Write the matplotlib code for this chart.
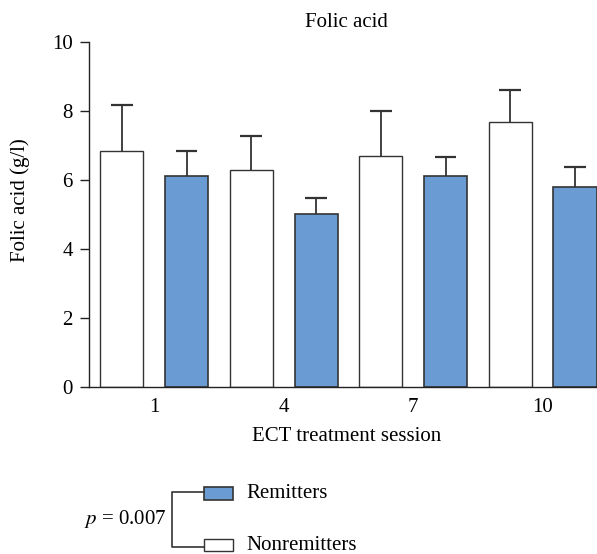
import numpy as np
import matplotlib
matplotlib.use('Agg')
import matplotlib.pyplot as plt
from matplotlib.patches import Rectangle

plt.rcParams['font.family'] = ['Liberation Serif', 'DejaVu Serif']
plt.rcParams['mathtext.fontset'] = 'stix'

# 数据
sessions = ['1', '4', '7', '10']
nonremit_mean = [6.82, 6.29, 6.70, 7.68]
nonremit_err = [1.35, 0.99, 1.28, 0.91]
remit_mean = [6.12, 5.02, 6.11, 5.79]
remit_err = [0.70, 0.44, 0.54, 0.57]
p_text = '0.007'

blue = '#6a9bd2'
edge = '#333333'
fs = 15

W, H = 597, 554
fig = plt.figure(figsize=(W / 100, H / 100), dpi=100)
ax = fig.add_axes([89 / W, 1 - 386.7 / H, (597 - 89) / W, (386.7 - 41.7) / H])

n = len(sessions)
x_non = np.arange(n) * 2
x_rem = x_non + 1
bw = 0.665
cap = 0.335


def draw_bars(x, mean, err, color, lw):
    ax.bar(x, mean, width=bw, color=color, edgecolor=edge, linewidth=lw, zorder=2)
    top = np.array(mean) + np.array(err)
    # 只画向上的误差线
    ax.vlines(x, mean, top, color=edge, lw=1.3, zorder=1)
    ax.hlines(top, x - cap / 2, x + cap / 2, color=edge, lw=1.6, zorder=1)


draw_bars(x_non, nonremit_mean, nonremit_err, 'white', 1.0)
draw_bars(x_rem, remit_mean, remit_err, blue, 1.2)

ax.set_xlim(-0.507, 7.34)
ax.set_ylim(0, 10)
ax.set_yticks([0, 2, 4, 6, 8, 10])
ax.set_xticks(x_non + 0.5)
ax.set_xticklabels(sessions)
ax.tick_params(axis='x', length=0, pad=8, labelsize=fs)
ax.tick_params(axis='y', length=6.7, width=1, pad=5, labelsize=fs, color='#222222')
for s in ['top', 'right']:
    ax.spines[s].set_visible(False)
for s in ['left', 'bottom']:
    ax.spines[s].set_linewidth(1.0)
    ax.spines[s].set_color('#222222')

ax.text(0.507, 1.057, 'Folic acid', fontsize=fs, ha='center', va='center', transform=ax.transAxes)
ax.set_xlabel('ECT treatment session', fontsize=fs)
ax.xaxis.set_label_coords(0.507, -0.145)
ax.xaxis.label.set_va('center')
ax.set_ylabel('Folic acid (g/l)', fontsize=fs)
ax.yaxis.set_label_coords(-0.136, 0.541)
ax.yaxis.label.set_va('center')

# 图例（带括号）
lg = fig.add_axes([0, 0, 1, 1])
lg.set_xlim(0, W)
lg.set_ylim(H, 0)
lg.axis('off')
lg.plot([204, 172, 172, 204], [491.7, 491.7, 547, 547], color=edge, lw=1.2)
lg.add_patch(Rectangle((204, 486.7), 29, 13.3, facecolor=blue, edgecolor=edge, lw=1.2))
lg.add_patch(Rectangle((204, 538.7), 29, 12, facecolor='white', edgecolor=edge, lw=1.0))
lg.text(246.7, 494, 'Remitters', fontsize=fs, va='center', ha='left')
lg.text(246.7, 545.5, 'Nonremitters', fontsize=fs, va='center', ha='left')
lg.text(167, 519, r'$p$ = ' + p_text, fontsize=fs, va='center', ha='right')

fig.savefig('out.png', dpi=100)
